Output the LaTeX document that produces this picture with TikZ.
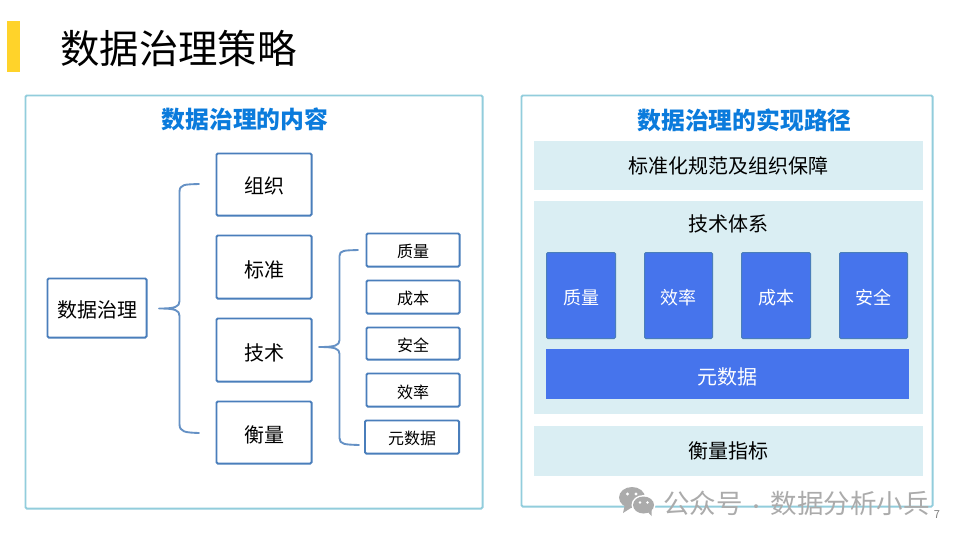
\documentclass[tikz,border=0pt]{standalone}
\usepackage{fontspec}
\setmainfont{Noto Sans CJK SC}
\usetikzlibrary{calc}
\definecolor{panelc}{HTML}{92CDDC}
\definecolor{boxc}{HTML}{4A7EBB}
\definecolor{bandc}{HTML}{DAEEF3}
\definecolor{bluec}{HTML}{4674EC}
\definecolor{headc}{HTML}{0B7BDC}
\definecolor{yellowc}{HTML}{FFD32A}
\definecolor{markc}{HTML}{ABABAB}
\newlength{\pxu}\setlength{\pxu}{0.75pt}
\newcommand{\fs}[1]{\fontsize{#1\pxu}{#1\pxu}\selectfont}
\newcommand{\dn}[2]{\raisebox{-#1\pxu}[\height][\depth]{#2}}
\tikzset{
  x=0.75pt,y=-0.75pt,
  rectnode/.style={inner sep=0pt,outer sep=0pt,align=center,rounded corners=1pt},
  panel/.style={rectnode,draw=panelc,line width=1.4pt,fill=white},
  tbox/.style={rectnode,draw=boxc,line width=1.4pt,fill=white,text=black,font=\fs{20}},
  sbox/.style={rectnode,draw=boxc,line width=1.4pt,fill=white,text=black,font=\fs{16}},
  band/.style={rectnode,rounded corners=0pt,fill=bandc,text=black,font=\fs{20}},
  bluebox/.style={rectnode,fill=bluec,draw=boxc,line width=0.75pt,text=white,font=\fs{18}},
  bluewide/.style={rectnode,rounded corners=0pt,fill=bluec,text=white,font=\fs{20}},
  brace/.style={draw=boxc!85!white,line width=1.4pt,line cap=round,line join=round},
  heading/.style={inner sep=0pt,text=headc,font=\fs{23.8}\bfseries},
  plain/.style={inner sep=0pt,text=black}
}
% name, style, x1, y1, x2, y2, text (outer edges in pixels)
\newcommand{\rectn}[7]{%
  \pgfmathsetmacro{\rw}{(#5-#3)*0.75}\pgfmathsetmacro{\rh}{(#6-#4)*0.75}%
  \node[#2,minimum width=\rw pt,minimum height=\rh pt] (#1) at ({(#3+#5)/2},{(#4+#6)/2}) {#7};}
% same, for stroked nodes: the stroke stays inside the given edges
\newcommand{\rects}[7]{%
  \pgfmathsetmacro{\rw}{(#5-#3)*0.75-1.4}\pgfmathsetmacro{\rh}{(#6-#4)*0.75-1.4}%
  \node[#2,minimum width=\rw pt,minimum height=\rh pt] (#1) at ({(#3+#5)/2},{(#4+#6)/2}) {#7};}
\begin{document}
\begin{tikzpicture}
\useasboundingbox (0,0) rectangle (960,540);
\fill[white] (0,0) rectangle (960,540);
\fill[yellowc] (7,21) rectangle (20,72);
\node[plain,anchor=west,font=\fs{39.4}] (title) at (60,49) {数据治理策略};

\rects{leftp}{panel}{24.5}{94.5}{483.5}{509.5}{}
\rects{rightp}{panel}{520.5}{94.5}{933.5}{507.5}{}
\node[heading] (lhead) at (245,119) {数据治理的内容};
\node[heading] (rhead) at (744.5,120) {数据治理的实现路径};

\rects{root}{tbox}{46.5}{277.5}{147.5}{338.5}{\dn{2}{数据治理}}
\rects{org}{tbox}{215.5}{152.5}{312.5}{216.5}{\dn{1}{组织}}
\rects{std}{tbox}{215.5}{234.5}{312.5}{299.5}{\dn{2.5}{标准}}
\rects{tech}{tbox}{215.5}{317.5}{312.5}{382.5}{\dn{2.5}{技术}}
\rects{meas}{tbox}{215.5}{400.5}{312.5}{464.5}{\dn{2.5}{衡量}}
\rects{s1}{sbox}{365.5}{232.5}{460.5}{267.5}{\dn{1.5}{质量}}
\rects{s2}{sbox}{365.5}{279.5}{460.5}{314.5}{\dn{1}{成本}}
\rects{s3}{sbox}{365.5}{326.5}{460.5}{360.5}{\dn{1.5}{安全}}
\rects{s4}{sbox}{365.5}{372.5}{460.5}{407.5}{\dn{2}{效率}}
\rects{s5}{sbox}{364}{419.5}{460}{454.5}{\dn{1}{元数据}}

% left brace
\coordinate (b1tip) at (159,308.5);
\coordinate (b1top) at (199,184);
\coordinate (b1bot) at (199,433);
\draw[brace] (b1top) .. controls (185,184.5) and (179.5,184) .. (179.5,192)
  -- (179.5,301) .. controls (179.5,307) and (175,308.5) .. (b1tip)
  .. controls (175,308.5) and (179.5,310) .. (179.5,316)
  -- (179.5,424) .. controls (179.5,432) and (185,432.5) .. (b1bot);
% right brace
\coordinate (b2tip) at (319,347);
\coordinate (b2top) at (358,250);
\coordinate (b2bot) at (359,445);
\draw[brace] (b2top) .. controls (345,250.5) and (339.5,250) .. (339.5,256)
  -- (339.5,340) .. controls (339.5,345.5) and (335,347) .. (b2tip)
  .. controls (335,347) and (339.5,348.5) .. (339.5,354)
  -- (339.5,438) .. controls (339.5,444.5) and (345,444.5) .. (b2bot);

\rectn{b1}{band}{534}{141}{923}{190}{标准化规范及组织保障}
\rectn{b2}{band}{534}{201}{923}{414}{}
\rectn{b3}{band}{534}{426}{923}{476}{衡量指标}
\node[plain,font=\fs{20}] (techt) at (728,224) {技术体系};
\rectn{q1}{bluebox}{546.5}{252.5}{615.5}{338.5}{\dn{2}{质量}}
\rectn{q2}{bluebox}{644.5}{252.5}{712.5}{338.5}{\dn{2}{效率}}
\rectn{q3}{bluebox}{741.5}{252.5}{810.5}{338.5}{\dn{2}{成本}}
\rectn{q4}{bluebox}{839.5}{252.5}{907.5}{338.5}{\dn{2}{安全}}
\rectn{q5}{bluewide}{546}{349}{909}{399}{\dn{2.5}{元数据}}

% watermark
\fill[markc] (632,497.5) ellipse [x radius=13,y radius=10.5];
\fill[markc] (625,504) -- (623,513) -- (634,506) -- cycle;
\fill[white] (643.5,505) ellipse [x radius=12,y radius=10];
\fill[markc] (643.5,505) ellipse [x radius=10.5,y radius=8.5];
\fill[markc] (647,511) -- (651.5,516) -- (651.5,509) -- cycle;
\fill[white] (627.5,494) circle (1.7) (636,494) circle (1.7);
\fill[white] (640,502.5) circle (1.3) (647.5,502.5) circle (1.3);
\node[inner sep=0pt,anchor=west,text=markc,font=\fs{26.5}] (wm) at (663,503) {公众号\makebox[21pt][c]{\fs{18}·}数据分析小兵};
\node[inner sep=0pt,text=gray,font=\fs{11}] (pg) at (937,515) {7};
\end{tikzpicture}
\end{document}
